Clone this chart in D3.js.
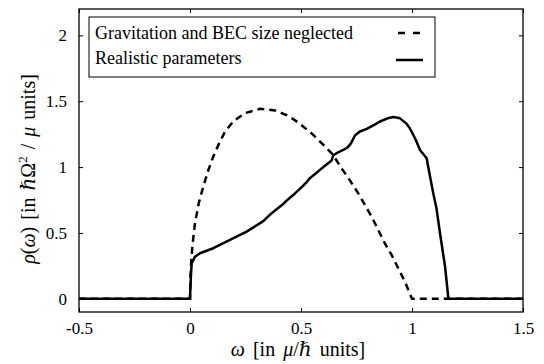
<!DOCTYPE html>
<html>
<head>
<meta charset="utf-8">
<script src="https://cdn.jsdelivr.net/npm/d3@7"></script>
<style>
  html, body { margin: 0; padding: 0; background: #fff; }
  svg text { font-family: "Liberation Serif", "DejaVu Serif", serif; fill: #000; }
</style>
</head>
<body>
<svg id="chart" width="544" height="364"></svg>
<script>
// density of states, omega in mu/hbar units
var xTicks = [-0.5, 0, 0.5, 1, 1.5];
var yTicks = [0, 0.5, 1, 1.5, 2];
var seriesNames = ['Gravitation and BEC size neglected', 'Realistic parameters'];

var neglected = [
  [-0.5, 0], [0, 0], [0.002, 0.17], [0.006, 0.3], [0.012, 0.42], [0.0225, 0.574], [0.04, 0.73],
  [0.06, 0.852], [0.083, 0.979], [0.105, 1.08], [0.131, 1.18], [0.158, 1.27], [0.195, 1.346],
  [0.248, 1.41], [0.315, 1.442], [0.383, 1.43], [0.443, 1.389], [0.488, 1.338], [0.555, 1.245],
  [0.6, 1.17], [0.641, 1.1], [0.683, 0.99], [0.72, 0.9], [0.758, 0.8], [0.788, 0.713],
  [0.818, 0.624], [0.848, 0.523], [0.878, 0.42], [0.908, 0.333], [0.938, 0.232], [0.968, 0.13],
  [1.0, 0], [1.5, 0]
];

var realistic = [
  [-0.5, 0], [0, 0], [0.004, 0.17], [0.0075, 0.27], [0.0225, 0.32], [0.045, 0.346], [0.105, 0.384],
  [0.18, 0.447], [0.255, 0.51], [0.33, 0.59], [0.368, 0.65], [0.39, 0.68], [0.42, 0.72],
  [0.435, 0.745], [0.445, 0.76], [0.473, 0.8], [0.495, 0.835], [0.51, 0.86], [0.525, 0.885],
  [0.54, 0.916], [0.565, 0.95], [0.593, 0.99], [0.615, 1.02], [0.638, 1.05], [0.645, 1.09],
  [0.665, 1.11], [0.69, 1.13], [0.71, 1.15], [0.725, 1.18], [0.743, 1.24], [0.765, 1.27],
  [0.796, 1.29], [0.83, 1.32], [0.856, 1.346], [0.89, 1.37], [0.916, 1.38], [0.946, 1.37],
  [0.975, 1.33], [0.99, 1.295], [1.01, 1.23], [1.021, 1.19], [1.036, 1.13], [1.066, 1.067],
  [1.081, 0.93], [1.096, 0.8], [1.11, 0.69], [1.126, 0.5], [1.149, 0.244], [1.164, 0], [1.5, 0]
];

var serif = '"Liberation Serif", "DejaVu Serif", serif';
var svg = d3.select('#chart');
var plotL = 79, plotR = 523, plotT = 9, plotB = 312;

var x = d3.scaleLinear().domain([-0.5, 1.5]).range([plotL, plotR]);
var y = d3.scaleLinear().domain([-0.1, 2.2]).range([plotB, plotT]);

svg.append('clipPath').attr('id', 'plot-clip')
  .append('rect').attr('x', plotL).attr('y', plotT).attr('width', plotR - plotL).attr('height', plotB - plotT);

function fmt(d) { return String(d); }

// axes, ticks pointing inward, mirrored on top/right
var gx = svg.append('g').attr('transform', 'translate(0,' + plotB + ')')
  .call(d3.axisBottom(x).tickValues(xTicks).tickFormat(fmt).tickSize(-4).tickSizeOuter(0).tickPadding(10));
var gy = svg.append('g').attr('transform', 'translate(' + plotL + ',0)')
  .call(d3.axisLeft(y).tickValues(yTicks).tickFormat(fmt).tickSize(-4).tickSizeOuter(0).tickPadding(12));
var gxt = svg.append('g').attr('transform', 'translate(0,' + plotT + ')')
  .call(d3.axisTop(x).tickValues(xTicks).tickFormat('').tickSize(-4).tickSizeOuter(0));
var gyr = svg.append('g').attr('transform', 'translate(' + plotR + ',0)')
  .call(d3.axisRight(y).tickValues(yTicks).tickFormat('').tickSize(-4).tickSizeOuter(0));

[gx, gy, gxt, gyr].forEach(function(g) {
  g.select('.domain').remove();
  g.attr('font-family', serif);
  g.selectAll('.tick line').attr('stroke', '#000').attr('stroke-width', 1);
  g.selectAll('.tick text').attr('font-size', 17).style('font-family', serif).attr('fill', '#000');
});

svg.append('rect')
  .attr('x', plotL).attr('y', plotT).attr('width', plotR - plotL).attr('height', plotB - plotT)
  .attr('fill', 'none').attr('stroke', '#000').attr('stroke-width', 1.3);

var line = d3.line().x(function(d) { return x(d[0]); }).y(function(d) { return y(d[1]); });

var plot = svg.append('g').attr('clip-path', 'url(#plot-clip)');
plot.append('path').datum(neglected)
  .attr('d', line).attr('fill', 'none').attr('stroke', '#000')
  .attr('stroke-width', 2.5).attr('stroke-dasharray', '7,5');
plot.append('path').datum(realistic)
  .attr('d', line).attr('fill', 'none').attr('stroke', '#000')
  .attr('stroke-width', 2.5).attr('stroke-linejoin', 'round');

// legend
var lg = svg.append('g');
lg.append('rect').attr('x', 89).attr('y', 17).attr('width', 346).attr('height', 60)
  .attr('fill', '#fff').attr('stroke', '#000').attr('stroke-width', 1);
lg.append('text').attr('x', 95).attr('y', 38.5).attr('font-size', 18).style('font-family', serif).text(seriesNames[0]);
lg.append('text').attr('x', 95).attr('y', 63.5).attr('font-size', 18).style('font-family', serif).text(seriesNames[1]);
lg.append('line').attr('x1', 398).attr('x2', 420).attr('y1', 33).attr('y2', 33)
  .attr('stroke', '#000').attr('stroke-width', 2.5).attr('stroke-dasharray', '7,8');
lg.append('line').attr('x1', 396).attr('x2', 423).attr('y1', 60).attr('y2', 60)
  .attr('stroke', '#000').attr('stroke-width', 2.5);

// axis titles
var xt = svg.append('text').attr('x', 298).attr('y', 356).attr('text-anchor', 'middle')
  .attr('font-size', 20).style('font-family', serif).style('word-spacing', '3px');
xt.append('tspan').attr('font-style', 'italic').text('ω');
xt.append('tspan').text(' [in ');
xt.append('tspan').attr('font-style', 'italic').text('μ');
xt.append('tspan').text('/ℏ units]');

var yt = svg.append('text').attr('transform', 'translate(35,169) rotate(-90)')
  .attr('text-anchor', 'middle').attr('font-size', 20).style('font-family', serif).style('word-spacing', '2px');
yt.append('tspan').attr('font-style', 'italic').text('ρ');
yt.append('tspan').text('(');
yt.append('tspan').attr('font-style', 'italic').text('ω');
yt.append('tspan').text(') [in ℏΩ');
yt.append('tspan').attr('font-size', 13).attr('dy', -8).text('2');
yt.append('tspan').attr('dy', 8).text(' / ');
yt.append('tspan').attr('font-style', 'italic').text('μ');
yt.append('tspan').text(' units]');
</script>
</body>
</html>
